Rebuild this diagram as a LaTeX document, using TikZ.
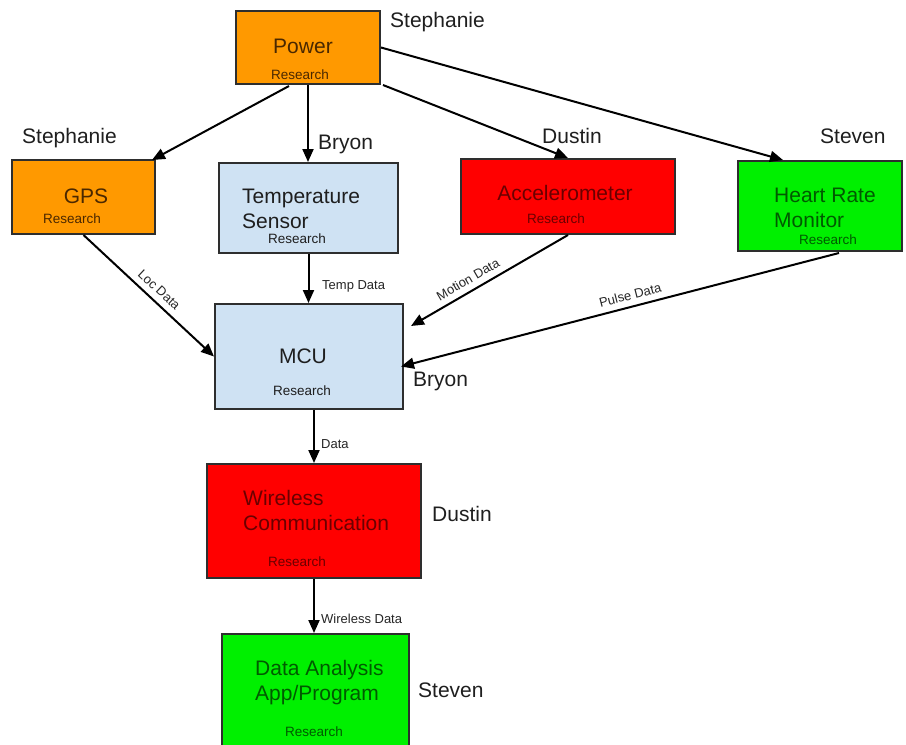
\documentclass[tikz,border=0pt]{standalone}
\usepackage{fontspec}
\setmainfont{Liberation Sans}
\usetikzlibrary{arrows.meta,calc}
\definecolor{cOrange}{HTML}{FF9900}
\definecolor{cBlue}{HTML}{CFE2F3}
\definecolor{cRed}{HTML}{FF0000}
\definecolor{cGreen}{HTML}{00F000}
\definecolor{cBorder}{HTML}{2E2E2E}
\definecolor{tOrange}{HTML}{4A2800}
\definecolor{tBlue}{HTML}{1E1E1E}
\definecolor{tRed}{HTML}{6A0000}
\definecolor{tGreen}{HTML}{005A00}
\tikzset{
  blk/.style={draw=cBorder, line width=2pt, rectangle, inner sep=0pt, anchor=north west},
  big/.style={font=\fontsize{21}{25}\selectfont, inner sep=0pt, anchor=base},
  bigleft/.style={font=\fontsize{21}{25}\selectfont, inner sep=0pt, anchor=base west, align=left},
  res/.style={font=\fontsize{13.5}{16}\selectfont, inner sep=0pt, anchor=base},
  who/.style={font=\fontsize{21}{25}\selectfont, inner sep=0pt, anchor=base west, text=black!88},
  elab/.style={font=\fontsize{13}{15}\selectfont, inner sep=0pt, text=black!85},
  arr/.style={line width=2pt, -{Triangle[length=13pt,width=11pt]}}
}
\begin{document}
\begin{tikzpicture}[x=1pt,y=-1pt]
\useasboundingbox[fill=white] (0,0) rectangle (906,745);
% boxes
\node[blk, fill=cOrange, minimum width=144pt, minimum height=73pt] (power) at (235,10) {};
\node[blk, fill=cOrange, minimum width=143pt, minimum height=74pt] (gps) at (11,159) {};
\node[blk, fill=cBlue, minimum width=179pt, minimum height=90pt] (temp) at (218,162) {};
\node[blk, fill=cRed, minimum width=214pt, minimum height=75pt] (accel) at (460,158) {};
\node[blk, fill=cGreen, minimum width=164pt, minimum height=90pt] (heart) at (737,160) {};
\node[blk, fill=cBlue, minimum width=188pt, minimum height=105pt] (mcu) at (214,303) {};
\node[blk, fill=cRed, minimum width=214pt, minimum height=114pt] (wire) at (206,463) {};
\node[blk, fill=cGreen, minimum width=187pt, minimum height=115pt] (app) at (221,633) {};
% box texts
\node[big, text=tOrange] (powerT) at (303,53) {Power};
\node[res, text=tOrange] (powerR) at (300,79) {Research};
\node[big, text=tOrange] (gpsT) at (86,203) {GPS};
\node[res, text=tOrange] (gpsR) at (72,223) {Research};
\node[bigleft, text=tBlue] (tempT) at (242,228) {Temperature\\Sensor};
\node[res, text=tBlue] (tempR) at (297,243) {Research};
\node[big, text=tRed] (accelT) at (565,200) {Accelerometer};
\node[res, text=tRed] (accelR) at (556,223) {Research};
\node[bigleft, text=tGreen] (heartT) at (774,227) {Heart Rate\\Monitor};
\node[res, text=tGreen] (heartR) at (828,244) {Research};
\node[big, text=tBlue] (mcuT) at (303,363) {MCU};
\node[res, text=tBlue] (mcuR) at (302,395) {Research};
\node[bigleft, text=tRed] (wireT) at (243,530) {Wireless\\Communication};
\node[res, text=tRed] (wireR) at (297,566) {Research};
\node[bigleft, text=tGreen] (appT) at (255,700) {Data Analysis\\App/Program};
\node[res, text=tGreen] (appR) at (314,736) {Research};
% names
\node[who] (n1) at (390,27) {Stephanie};
\node[who] (n2) at (22,143) {Stephanie};
\node[who] (n3) at (318,149) {Bryon};
\node[who] (n4) at (542,143) {Dustin};
\node[who] (n5) at (820,143) {Steven};
\node[who] (n6) at (413,386) {Bryon};
\node[who] (n7) at (432,521) {Dustin};
\node[who] (n8) at (418,697) {Steven};
% connectors
\draw[arr] ($(power.south)+(-19,1)$) -- ($(gps.north east)+(-4,1)$);
\draw[arr] (power.south) -- (power.south |- temp.north);
\draw[arr] ($(power.south east)+(2,0)$) -- (accel.north);
\draw[arr] (power.east) -- ($(heart.north west)+(46,0)$);
\draw[arr] (gps.south) -- node[elab, sloped, above=6pt, pos=0.52] (l1) {Loc Data} (mcu.west);
\draw[arr] (temp.south) -- (temp.south |- mcu.north);
\node[elab, anchor=base west] (l2) at (322,289) {Temp Data};
\draw[arr] (accel.south) -- node[elab, sloped, above=6pt, pos=0.6] (l3) {Motion Data} ($(mcu.north east)+(7,23)$);
\draw[arr] ($(heart.south west)+(102,1)$) -- node[elab, sloped, above=6pt, pos=0.47] (l4) {Pulse Data} ($(mcu.east)+(-3,10)$);
\draw[arr] ($(mcu.south)+(5,0)$) -- (wire.north);
\node[elab, anchor=base west] (l5) at (321,448) {Data};
\draw[arr] (wire.south) -- (wire.south |- app.north);
\node[elab, anchor=base west] (l6) at (321,623) {Wireless Data};
\end{tikzpicture}
\end{document}
